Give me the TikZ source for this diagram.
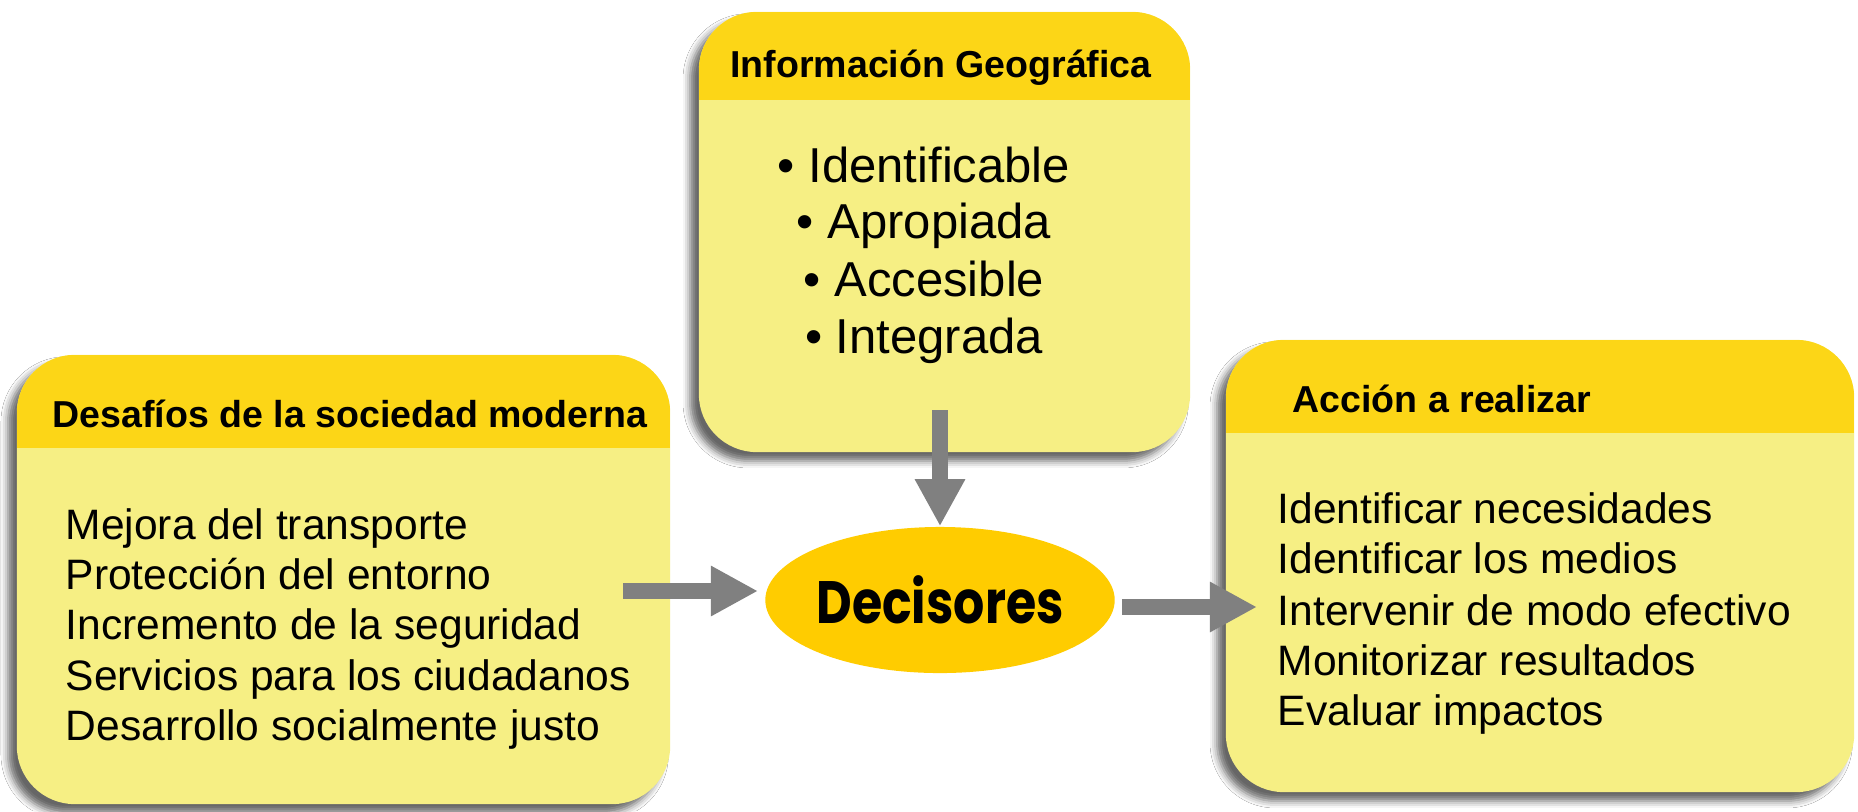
\documentclass[tikz,border=0pt]{standalone}
\usepackage{fontspec}
\usepackage{graphicx}
\setmainfont{Liberation Sans}
\newfontfamily\decfont[FakeStretch=0.82]{Poppins}
\usetikzlibrary{shapes.geometric,shadows.blur,arrows.meta}
\definecolor{hdr}{HTML}{FCD617}
\definecolor{bodyc}{HTML}{F6EF84}
\definecolor{ellc}{HTML}{FFCC00}
\definecolor{arrc}{HTML}{808080}
\tikzset{
  panel/.style={rectangle, rounded corners=0.58cm, fill=bodyc, inner sep=0pt,
    blur shadow={shadow xshift=-2.5pt, shadow yshift=-2.5pt, shadow blur radius=2pt, shadow opacity=60}},
  hdrband/.style={path picture={\fill[hdr, sharp corners] (path picture bounding box.north west) rectangle ([yshift=-#1]path picture bounding box.north east);}},
  ttl/.style={font=\bfseries\fontsize{10.67pt}{12pt}\selectfont, inner sep=0pt},
  itm/.style={font=\fontsize{12.1pt}{14pt}\selectfont, inner sep=0pt, anchor=base west},
  bul/.style={font=\fontsize{13.94pt}{16pt}\selectfont, inner sep=0pt, anchor=base},
  blockarr/.style={draw=arrc, line width=0.16cm, -{Triangle[length=0.47cm,width=0.47cm]}},
}
\begin{document}
\begin{tikzpicture}[x=0.01cm, y=-0.01cm]
\fill[white] (0,0) rectangle (1858,811);
\useasboundingbox (0,0) rectangle (1858,811);

% panels
\node[panel, hdrband=0.88cm, minimum width=4.91cm, minimum height=4.40cm] (info) at (944.5,232) {};
\node[panel, hdrband=0.93cm, minimum width=6.53cm, minimum height=4.49cm] (desaf) at (343.5,579.5) {};
\node[panel, hdrband=0.93cm, minimum width=6.28cm, minimum height=4.52cm] (accion) at (1540,566) {};

% titles
\node[ttl, anchor=base] (infot) at (941,77) {Información Geográfica};
\node[ttl, anchor=base west] (desaft) at (52,427) {Desafíos de la sociedad moderna};
\node[ttl, anchor=base west] (acciont) at (1292,412) {Acción a realizar};

% top bullets
\node[bul] (b1) at (924,182) {• Identificable};
\node[bul] (b2) at (924,238) {• Apropiada};
\node[bul] (b3) at (924,296) {• Accesible};
\node[bul] (b4) at (924,353) {• Integrada};

% left items
\node[itm] (l1) at (65,539) {Mejora del transporte};
\node[itm] (l2) at (65,589) {Protección del entorno};
\node[itm] (l3) at (65,639) {Incremento de la seguridad};
\node[itm] (l4) at (65,690) {Servicios para los ciudadanos};
\node[itm] (l5) at (65,740) {Desarrollo socialmente justo};

% right items
\node[itm] (r1) at (1277,523) {Identificar necesidades};
\node[itm] (r2) at (1277,573) {Identificar los medios};
\node[itm] (r3) at (1277,625) {Intervenir de modo efectivo};
\node[itm] (r4) at (1277,675) {Monitorizar resultados};
\node[itm] (r5) at (1277,725) {Evaluar impactos};

% central ellipse
\node[ellipse, fill=ellc, minimum width=3.28cm, minimum height=1.46cm, inner sep=0pt] (dec) at (940,600)
  {\decfont\bfseries\fontsize{17pt}{20pt}\selectfont Decisores};

% arrows
\coordinate (ts) at (940,410);
\coordinate (ls) at (623,591);
\coordinate (le) at (758,591);
\coordinate (rs) at (1122,607);
\coordinate (re) at (1257,607);
\draw[blockarr] (ts) -- (dec.north);
\draw[blockarr] (ls) -- (le);
\draw[blockarr] (rs) -- (re);
\end{tikzpicture}
\end{document}
